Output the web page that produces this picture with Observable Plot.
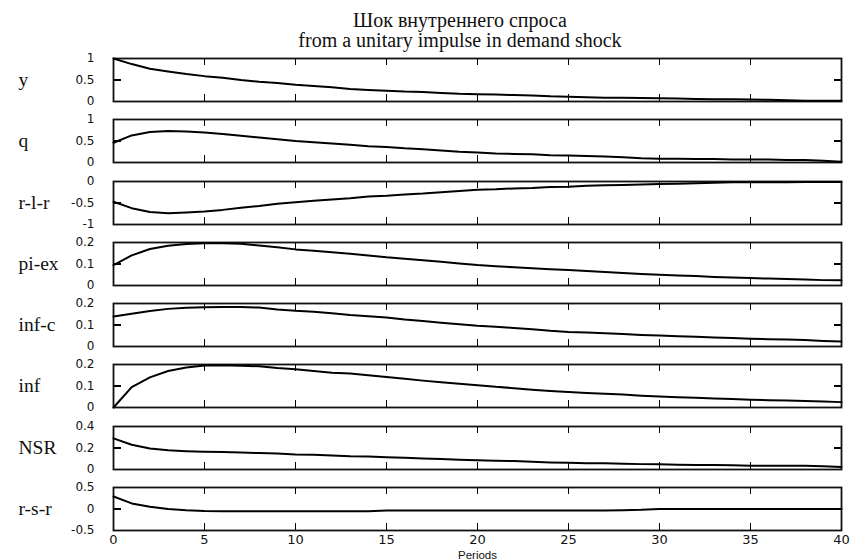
<!DOCTYPE html>
<html>
<head>
<meta charset="utf-8">
<script src="https://cdn.jsdelivr.net/npm/d3@7"></script>
<script src="https://cdn.jsdelivr.net/npm/@observablehq/plot@0.6"></script>
<style>
  html, body { margin: 0; padding: 0; background: #fff; }
  #chart { position: relative; width: 853px; height: 559px; overflow: hidden; }
  .title { position: absolute; left: 0; width: 920px; text-align: center;
           font-family: "Liberation Serif", "Times New Roman", serif; font-size: 20px;
           line-height: 20px; color: #111; }
  .panel { position: absolute; left: 0; }
</style>
</head>
<body>
<div id="chart">
  <div class="title" id="title" style="top:10px"></div>
</div>
<script>
const titleLines = ["Шок внутреннего спроса", "from a unitary impulse in demand shock"];
const xLabel = "Periods";
const periods = [0,1,2,3,4,5,6,7,8,9,10,11,12,13,14,15,16,17,18,19,20,21,22,23,24,25,26,27,28,29,30,31,32,33,34,35,36,37,38,39,40];
const xTicks = [0,5,10,15,20,25,30,35,40];

const panelNames = ["y", "q", "r-l-r", "pi-ex", "inf-c", "inf", "NSR", "r-s-r"];
const panelTicks = [
  [0, 0.5, 1],
  [0, 0.5, 1],
  [-1, -0.5, 0],
  [0, 0.1, 0.2],
  [0, 0.1, 0.2],
  [0, 0.1, 0.2],
  [0, 0.2, 0.4],
  [-0.5, 0, 0.5]
];

const yS = [1.00,0.87,0.76,0.70,0.64,0.59,0.55,0.50,0.46,0.43,0.39,0.36,0.33,0.29,0.27,0.25,0.23,0.22,0.20,0.18,0.17,0.16,0.15,0.14,0.12,0.11,0.10,0.09,0.09,0.08,0.075,0.07,0.06,0.05,0.05,0.045,0.04,0.03,0.02,0.02,0.02];
const qS = [0.46,0.63,0.71,0.73,0.72,0.70,0.66,0.62,0.58,0.54,0.50,0.47,0.44,0.41,0.38,0.36,0.33,0.31,0.28,0.25,0.23,0.21,0.20,0.19,0.17,0.16,0.15,0.14,0.12,0.10,0.09,0.09,0.08,0.08,0.07,0.07,0.07,0.06,0.06,0.04,0.02];
const rlrS = [-0.47,-0.62,-0.71,-0.74,-0.72,-0.70,-0.66,-0.61,-0.57,-0.52,-0.48,-0.45,-0.42,-0.39,-0.35,-0.33,-0.30,-0.28,-0.25,-0.22,-0.19,-0.18,-0.16,-0.15,-0.13,-0.12,-0.10,-0.09,-0.08,-0.07,-0.06,-0.05,-0.04,-0.03,-0.02,-0.02,-0.02,-0.02,-0.01,-0.01,-0.01];
const piexS = [0.095,0.140,0.170,0.185,0.193,0.197,0.197,0.194,0.186,0.178,0.168,0.162,0.155,0.148,0.140,0.131,0.124,0.117,0.110,0.102,0.095,0.090,0.085,0.080,0.076,0.072,0.068,0.063,0.058,0.054,0.050,0.047,0.044,0.040,0.037,0.035,0.032,0.030,0.028,0.025,0.024];
const infcS = [0.140,0.152,0.165,0.175,0.180,0.183,0.184,0.184,0.181,0.172,0.166,0.162,0.155,0.147,0.141,0.135,0.126,0.119,0.111,0.104,0.097,0.092,0.086,0.080,0.073,0.068,0.065,0.062,0.058,0.054,0.051,0.048,0.045,0.042,0.039,0.036,0.034,0.032,0.030,0.026,0.023];
const infS = [0.000,0.095,0.140,0.170,0.186,0.195,0.196,0.194,0.192,0.184,0.178,0.170,0.162,0.158,0.150,0.142,0.134,0.125,0.117,0.110,0.104,0.096,0.090,0.083,0.077,0.072,0.068,0.064,0.060,0.055,0.051,0.048,0.045,0.042,0.039,0.036,0.034,0.032,0.030,0.028,0.025];
const nsrS = [0.29,0.23,0.195,0.178,0.170,0.165,0.162,0.157,0.153,0.148,0.140,0.137,0.130,0.123,0.120,0.115,0.109,0.103,0.097,0.091,0.086,0.082,0.078,0.072,0.066,0.062,0.059,0.057,0.054,0.050,0.048,0.044,0.043,0.042,0.040,0.036,0.035,0.035,0.034,0.030,0.024];
const rsrS = [0.29,0.13,0.05,0.00,-0.03,-0.045,-0.05,-0.05,-0.05,-0.05,-0.05,-0.05,-0.05,-0.05,-0.05,-0.035,-0.035,-0.035,-0.035,-0.035,-0.035,-0.035,-0.035,-0.035,-0.035,-0.035,-0.035,-0.035,-0.03,-0.02,0,0,0,0,0,0,0,0,0,0,0];

const seriesList = [yS, qS, rlrS, piexS, infcS, infS, nsrS, rsrS];

const titleEl = document.getElementById("title");
titleLines.forEach((line, k) => {
  if (k) titleEl.appendChild(document.createElement("br"));
  titleEl.appendChild(document.createTextNode(line));
});

const chart = document.getElementById("chart");
const W = 853, mL = 113, mR = 12;
const firstTop = 58, step = 61.25, frameH = 43;

seriesList.forEach((vals, i) => {
  const [lo, mid, hi] = panelTicks[i];
  const last = i === seriesList.length - 1;
  const mT = 6, mB = last ? 32 : 6;
  const data = periods.map((t, k) => ({t, v: vals[k]}));
  const span = hi - lo;
  const tY = span * 0.17;
  const tX = 40 * (7.5 / (W - mL - mR));
  const topTicks = xTicks.map(t => ({x: t, a: hi, b: hi - tY}));
  const botTicks = xTicks.map(t => ({x: t, a: lo, b: lo + tY}));
  const sideTicks = [{y: mid, a: 0, b: tX}, {y: mid, a: 40, b: 40 - tX}];
  const tickStyle = {stroke: "#000", strokeWidth: 1.5, shapeRendering: "crispEdges"};
  const marks = [
    Plot.ruleX(topTicks, {x: "x", y1: "a", y2: "b", ...tickStyle}),
    Plot.ruleX(botTicks, {x: "x", y1: "a", y2: "b", ...tickStyle}),
    Plot.ruleY(sideTicks, {y: "y", x1: "a", x2: "b", ...tickStyle}),
    Plot.frame({stroke: "#111", strokeWidth: 1.8}),
    Plot.lineY(data, {x: "t", y: "v", stroke: "#000", strokeWidth: 2}),
    Plot.axisY(panelTicks[i], {tickSize: 0, tickPadding: 19, tickFormat: d => String(d), fontSize: 12, fill: "#111", label: null}),
    Plot.text([panelNames[i]], {frameAnchor: "left", dx: -95, textAnchor: "start",
      fontFamily: "'Liberation Serif', 'Times New Roman', serif", fontSize: 19.5, fill: "#111"})
  ];
  if (last) {
    marks.push(Plot.axisX(xTicks, {tickSize: 0, tickPadding: 4, fontSize: 13, fill: "#111", label: null}));
    marks.push(Plot.text([xLabel], {frameAnchor: "bottom", dy: 28, fontSize: 11.5,
      fontFamily: "'Liberation Sans', Arial, sans-serif", fill: "#111"}));
  }
  const svg = Plot.plot({
    width: W,
    height: frameH + mT + mB,
    marginLeft: mL, marginRight: mR, marginTop: mT, marginBottom: mB,
    style: {fontFamily: "'DejaVu Sans', sans-serif", fontSize: "12px", background: "transparent", overflow: "visible"},
    x: {domain: [0, 40], axis: null},
    y: {domain: [lo, hi], axis: null},
    marks
  });
  const wrap = document.createElement("div");
  wrap.className = "panel";
  wrap.style.top = (firstTop + i * step - mT) + "px";
  wrap.appendChild(svg);
  chart.appendChild(wrap);
});
</script>
</body>
</html>
